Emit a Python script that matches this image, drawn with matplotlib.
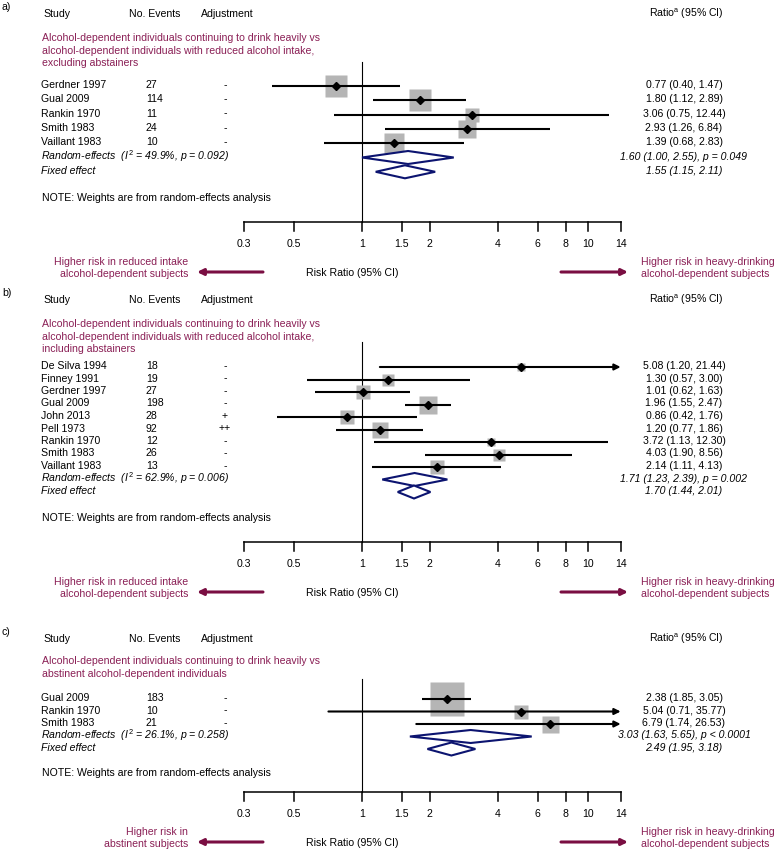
import numpy as np
import matplotlib
matplotlib.use('Agg')
import matplotlib.pyplot as plt
from matplotlib import transforms

plt.rcParams['font.family'] = ['Liberation Sans', 'DejaVu Sans']
plt.rcParams['mathtext.fontset'] = 'custom'
plt.rcParams['mathtext.rm'] = 'Liberation Sans'
plt.rcParams['mathtext.it'] = 'Liberation Sans:italic'

# ---- data ----
a_study = ['Gerdner 1997', 'Gual 2009', 'Rankin 1970', 'Smith 1983', 'Vaillant 1983']
a_events = [27, 114, 11, 24, 10]
a_adj = ['-', '-', '-', '-', '-']
a_rr = [0.77, 1.80, 3.06, 2.93, 1.39]
a_lo = [0.40, 1.12, 0.75, 1.26, 0.68]
a_hi = [1.47, 2.89, 12.44, 6.84, 2.83]
a_wt = [24.2, 29.0, 9.3, 17.8, 19.8]
a_re = [1.60, 1.00, 2.55]
a_fe = [1.55, 1.15, 2.11]
a_re_p = 'p = 0.049'
a_het = ('49.9%', 'p = 0.092')

b_study = ['De Silva 1994', 'Finney 1991', 'Gerdner 1997', 'Gual 2009', 'John 2013',
           'Pell 1973', 'Rankin 1970', 'Smith 1983', 'Vaillant 1983']
b_events = [18, 19, 27, 198, 28, 92, 12, 26, 13]
b_adj = ['-', '-', '-', '-', '+', '++', '-', '-', '-']
b_rr = [5.08, 1.30, 1.01, 1.96, 0.86, 1.20, 3.72, 4.03, 2.14]
b_lo = [1.20, 0.57, 0.62, 1.55, 0.42, 0.77, 1.13, 1.90, 1.11]
b_hi = [21.44, 3.00, 1.63, 2.47, 1.76, 1.86, 12.30, 8.56, 4.13]
b_wt = [3.9, 8.8, 13.7, 19.8, 12.0, 15.6, 3.9, 10.3, 12.0]
b_re = [1.71, 1.23, 2.39]
b_fe = [1.70, 1.44, 2.01]
b_re_p = 'p = 0.002'
b_het = ('62.9%', 'p = 0.006')

c_study = ['Gual 2009', 'Rankin 1970', 'Smith 1983']
c_events = [183, 10, 21]
c_adj = ['-', '-', '-']
c_rr = [2.38, 5.04, 6.79]
c_lo = [1.85, 0.71, 1.74]
c_hi = [3.05, 35.77, 26.53]
c_wt = [71.6, 10.5, 17.9]
c_re = [3.03, 1.63, 5.65]
c_fe = [2.49, 1.95, 3.18]
c_re_p = 'p < 0.0001'
c_het = ('26.1%', 'p = 0.258')

ticks = [0.3, 0.5, 1, 1.5, 2, 4, 6, 8, 10, 14]
tick_labels = ['0.3', '0.5', '1', '1.5', '2', '4', '6', '8', '10', '14']

a_title = ['Alcohol-dependent individuals continuing to drink heavily vs',
           'alcohol-dependent individuals with reduced alcohol intake,',
           'excluding abstainers']
b_title = ['Alcohol-dependent individuals continuing to drink heavily vs',
           'alcohol-dependent individuals with reduced alcohol intake,',
           'including abstainers']
c_title = ['Alcohol-dependent individuals continuing to drink heavily vs',
           'abstinent alcohol-dependent individuals']
left_ab = ['Higher risk in reduced intake', 'alcohol-dependent subjects']
left_c = ['Higher risk in', 'abstinent subjects']
right_txt = ['Higher risk in heavy-drinking', 'alcohol-dependent subjects']

# ---- style ----
W, H = 775, 853
FS = 7.6
PURPLE = '#8a1f55'
ARROW = '#7a0e42'
NAVY = '#0c1470'
BOXC = '#b5b5b5'

fig = plt.figure(figsize=(W / 100, H / 100), dpi=100)
ax = fig.add_axes([0, 0, 1, 1])
ax.set_xscale('log')
# 1 sits at x=362 px, 98 px per natural-log unit
ax.set_xlim(np.exp(-362 / 98), np.exp((W - 362) / 98))
ax.set_ylim(H, 0)
ax.axis('off')
T = transforms.blended_transform_factory(ax.transAxes, ax.transData)


def px(x):
    return x / W


def draw_panel(tag, y0, title, sub_y, vtop, row0, step, note_y, axis_y,
               study, events, adj, rr, lo, hi, wt, re, fe, re_p, het, maxbox, left_txt):
    # header
    ax.text(px(2), y0 - 7, tag, transform=T, fontsize=FS, va='center')
    ax.text(px(43), y0, 'Study', transform=T, fontsize=FS, va='center')
    ax.text(px(129), y0, 'No. Events', transform=T, fontsize=FS, va='center')
    ax.text(px(201), y0, 'Adjustment', transform=T, fontsize=FS, va='center')
    ax.text(px(686), y0, r'Ratio$^{\rm a}$ (95% CI)', transform=T, fontsize=FS,
            va='center', ha='center')
    for k, line in enumerate(title):
        ax.text(px(42), sub_y + k * 12.6, line, transform=T, fontsize=FS, va='center',
                color=PURPLE)

    n = len(study)
    ys = [row0 + i * step for i in range(n)]
    y_re = row0 + n * step
    y_fe = row0 + (n + 1) * step

    # reference line at 1
    ax.plot([1, 1], [vtop, axis_y], color='k', lw=0.8, zorder=1)

    wmax = max(wt)
    for i in range(n):
        y = ys[i]
        ax.text(px(41), y - 2, study[i], transform=T, fontsize=FS, va='center')
        ax.text(px(146), y - 2, str(events[i]), transform=T, fontsize=FS, va='center')
        ax.text(px(225), y - 2, adj[i], transform=T, fontsize=FS, va='center', ha='center')
        ax.text(px(684), y - 2, f'{rr[i]:.2f} ({lo[i]:.2f}, {hi[i]:.2f})', transform=T,
                fontsize=FS, va='center', ha='center')
        side = maxbox * np.sqrt(wt[i] / wmax) * 0.72
        ax.plot(rr[i], y, marker='s', ms=side, mfc=BOXC, mec='none', zorder=2)
        if hi[i] > ticks[-1]:
            ax.annotate('', xy=(ticks[-1], y), xytext=(lo[i], y),
                        arrowprops=dict(arrowstyle='-|>', lw=1.5, color='k',
                                        mutation_scale=9, shrinkA=0, shrinkB=0),
                        zorder=3)
        else:
            ax.plot([lo[i], hi[i]], [y, y], color='k', lw=1.5, zorder=3,
                    solid_capstyle='butt')
        ax.plot(rr[i], y, marker='D', ms=3.8, color='k', zorder=4)

    # pooled estimates
    it = dict(transform=T, fontsize=FS, va='center', style='italic')
    ax.text(px(41), y_re - 2, rf'Random-effects  ($I^2$ = {het[0]}, {het[1]})', **it)
    ax.text(px(41), y_fe - 2, 'Fixed effect', **it)
    ax.text(px(684), y_re - 2, f'{re[0]:.2f} ({re[1]:.2f}, {re[2]:.2f}), {re_p}',
            ha='center', **it)
    ax.text(px(684), y_fe - 2, f'{fe[0]:.2f} ({fe[1]:.2f}, {fe[2]:.2f})', ha='center', **it)
    for est, y in ((re, y_re), (fe, y_fe)):
        ax.fill([est[1], est[0], est[2], est[0], est[1]],
                [y, y - 6.5, y, y + 6.5, y], facecolor='white', edgecolor=NAVY,
                lw=1.5, zorder=3)

    ax.text(px(42), note_y, 'NOTE: Weights are from random-effects analysis', transform=T,
            fontsize=FS, va='center')

    # x axis
    ax.plot([ticks[0], ticks[-1]], [axis_y, axis_y], color='k', lw=1.1)
    for t, lab in zip(ticks, tick_labels):
        ax.plot([t, t], [axis_y, axis_y + 9], color='k', lw=1.1)
        ax.text(t, axis_y + 21, lab, fontsize=FS, ha='center', va='center')

    ay = axis_y + 50
    ax.text(px(306), ay, 'Risk Ratio (95% CI)', transform=T, fontsize=FS, va='center')
    for k in range(2):
        ax.text(px(188), axis_y + 39 + k * 12.3, left_txt[k], transform=T, fontsize=FS,
                va='center', ha='right', color=PURPLE)
        ax.text(px(641), axis_y + 39 + k * 12.3, right_txt[k], transform=T, fontsize=FS,
                va='center', ha='left', color=PURPLE)
    ax.annotate('', xy=(px(197), ay), xytext=(px(263), ay), xycoords=T, textcoords=T,
                arrowprops=dict(arrowstyle='-|>', lw=2.2, color=ARROW, mutation_scale=9,
                                shrinkA=0, shrinkB=0))
    ax.annotate('', xy=(px(628), ay), xytext=(px(561), ay), xycoords=T, textcoords=T,
                arrowprops=dict(arrowstyle='-|>', lw=2.2, color=ARROW, mutation_scale=9,
                                shrinkA=0, shrinkB=0))


draw_panel('a)', 14, a_title, 38, 63, 87, 14.3, 198, 223,
           a_study, a_events, a_adj, a_rr, a_lo, a_hi, a_wt, a_re, a_fe, a_re_p, a_het,
           23, left_ab)
draw_panel('b)', 300, b_title, 324, 343, 368, 12.5, 518, 543,
           b_study, b_events, b_adj, b_rr, b_lo, b_hi, b_wt, b_re, b_fe, b_re_p, b_het,
           18, left_ab)
draw_panel('c)', 639, c_title, 661, 680, 700, 12.5, 773, 793,
           c_study, c_events, c_adj, c_rr, c_lo, c_hi, c_wt, c_re, c_fe, c_re_p, c_het,
           34, left_c)

fig.savefig('out.png', dpi=100)
